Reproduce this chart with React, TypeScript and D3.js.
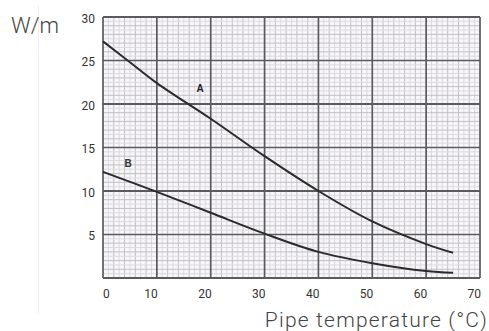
import { useEffect, useRef } from "react";
import * as d3 from "d3";

const X_TICKS = [0, 10, 20, 30, 40, 50, 60, 70];
const Y_TICKS = [5, 10, 15, 20, 25, 30];

const CURVE_A_X = [0, 5, 10, 20, 30, 40, 50, 60, 65];
const CURVE_A_Y = [27.2, 24.8, 22.4, 18.3, 14.0, 10.0, 6.5, 3.9, 2.9];
const CURVE_B_X = [0, 10, 20, 30, 40, 50, 60, 65];
const CURVE_B_Y = [12.2, 9.9, 7.5, 5.1, 3.0, 1.7, 0.8, 0.6];

const W = 489;
const H = 331;

export default function App() {
  const svgRef = useRef<SVGSVGElement>(null);

  useEffect(() => {
    if (!svgRef.current) return;
    const svg = d3.select(svgRef.current);
    svg.selectAll("*").remove();

    const x = d3.scaleLinear().domain([0, 70]).range([103, 480]);
    const y = d3.scaleLinear().domain([0, 30]).range([278, 17]);
    const font = "Roboto, 'Noto Sans', sans-serif";

    // faint divider at the left
    svg
      .append("line")
      .attr("x1", 38.5)
      .attr("x2", 38.5)
      .attr("y1", 5)
      .attr("y2", 313)
      .attr("stroke", "#f0f0f0");

    // plot background
    svg
      .append("rect")
      .attr("x", x(0))
      .attr("y", y(30))
      .attr("width", x(70) - x(0))
      .attr("height", y(0) - y(30))
      .attr("fill", "#f6f7fa");

    const grid = svg.append("g");

    // fine grid: 1 unit in x, 0.5 in y
    d3.range(0, 70.01, 1).forEach((v) => {
      if (v % 10 === 0) return;
      const mid = v % 2 === 0;
      grid
        .append("line")
        .attr("x1", x(v))
        .attr("x2", x(v))
        .attr("y1", y(0))
        .attr("y2", y(30))
        .attr("stroke", mid ? "#c6bec2" : "#dfdade")
        .attr("stroke-width", 1);
    });
    d3.range(0, 30.01, 0.5).forEach((v) => {
      if (v % 5 === 0) return;
      const mid = v % 1 === 0;
      grid
        .append("line")
        .attr("x1", x(0))
        .attr("x2", x(70))
        .attr("y1", y(v))
        .attr("y2", y(v))
        .attr("stroke", mid ? "#c6bec2" : "#dfdade")
        .attr("stroke-width", 1);
    });

    // major grid
    X_TICKS.forEach((v) => {
      grid
        .append("line")
        .attr("x1", x(v))
        .attr("x2", x(v))
        .attr("y1", y(0))
        .attr("y2", y(30))
        .attr("stroke", "#5c5a5c")
        .attr("stroke-width", 1.7);
    });
    [0, ...Y_TICKS].forEach((v) => {
      grid
        .append("line")
        .attr("x1", x(0))
        .attr("x2", x(70))
        .attr("y1", y(v))
        .attr("y2", y(v))
        .attr("stroke", "#5c5a5c")
        .attr("stroke-width", v % 10 === 0 ? 2.2 : 1.7);
    });

    // curves
    const line = d3
      .line<[number, number]>()
      .x((d) => x(d[0]))
      .y((d) => y(d[1]))
      .curve(d3.curveCatmullRom);

    const seriesA = CURVE_A_X.map((v, i) => [v, CURVE_A_Y[i]] as [number, number]);
    const seriesB = CURVE_B_X.map((v, i) => [v, CURVE_B_Y[i]] as [number, number]);

    [seriesA, seriesB].forEach((s) => {
      svg
        .append("path")
        .attr("d", line(s))
        .attr("fill", "none")
        .attr("stroke", "#2b2b2b")
        .attr("stroke-width", 2);
    });

    // curve labels
    svg
      .append("text")
      .attr("x", 200)
      .attr("y", 92)
      .attr("text-anchor", "middle")
      .attr("font-family", "Arial, 'Liberation Sans', sans-serif")
      .attr("font-weight", "bold")
      .attr("font-size", "10px")
      .attr("fill", "#222")
      .text("A");
    svg
      .append("text")
      .attr("x", 128)
      .attr("y", 167)
      .attr("text-anchor", "middle")
      .attr("font-family", "Arial, 'Liberation Sans', sans-serif")
      .attr("font-weight", "bold")
      .attr("font-size", "10px")
      .attr("fill", "#333")
      .text("B");

    // x tick labels
    X_TICKS.forEach((v) => {
      svg
        .append("text")
        .attr("x", x(v) + (v === 0 ? 0 : 1))
        .attr("y", 298)
        .attr("text-anchor", v === 0 ? "start" : "end")
        .attr("font-family", font)
        .attr("font-size", "12px")
        .attr("fill", "#333")
        .text(v);
    });

    // y tick labels
    Y_TICKS.forEach((v) => {
      svg
        .append("text")
        .attr("x", 95)
        .attr("y", y(v) + 5.5)
        .attr("text-anchor", "end")
        .attr("font-family", font)
        .attr("font-size", "12px")
        .attr("fill", "#333")
        .text(v);
    });

    // axis titles
    svg
      .append("text")
      .attr("x", 11)
      .attr("y", 33)
      .attr("font-family", font)
      .attr("font-weight", 300)
      .attr("font-size", "22px")
      .attr("fill", "#444")
      .text("W/m");

    svg
      .append("text")
      .attr("x", 488)
      .attr("y", 327)
      .attr("text-anchor", "end")
      .attr("font-family", font)
      .attr("font-weight", 300)
      .attr("font-size", "21px")
      .attr("letter-spacing", "1.2px")
      .attr("fill", "#444")
      .text("Pipe temperature (°C)");
  }, []);

  return (
    <div style={{ position: "fixed", left: 0, top: 0 }}>
      <svg ref={svgRef} width={W} height={H} style={{ display: "block", background: "#fff" }} />
    </div>
  );
}
